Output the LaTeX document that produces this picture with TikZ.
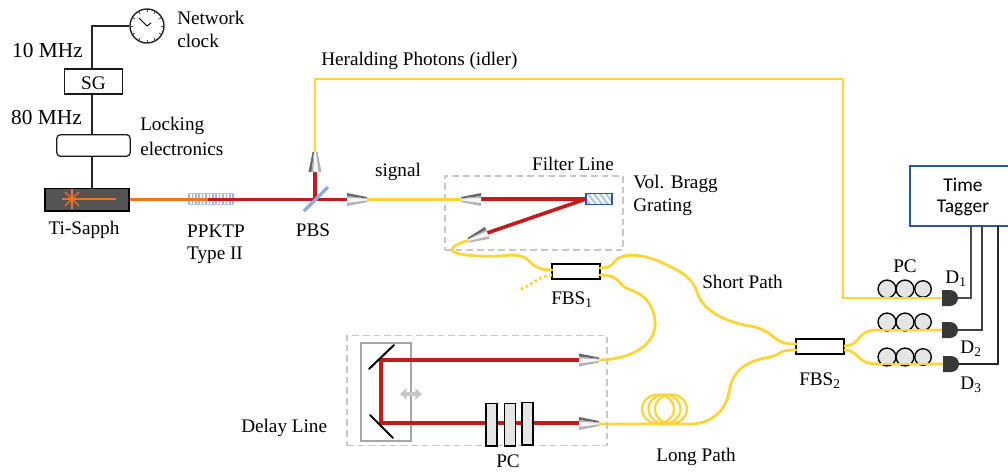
\documentclass[tikz,border=0pt]{standalone}
\usepackage{fontspec}
\setmainfont{Liberation Serif}
\newfontfamily\calfont{Carlito}
\usetikzlibrary{arrows.meta,calc}
\definecolor{fibre}{HTML}{FFD43B}
\definecolor{beam}{HTML}{C51A1B}
\definecolor{pump}{HTML}{ED7420}
\definecolor{tagblue}{HTML}{2F5597}
\definecolor{lblue}{HTML}{B4C7E7}
\definecolor{pbs}{HTML}{8FAADC}
\definecolor{dashg}{HTML}{C8C8C8}
\tikzset{
  x=0.75pt,y=-0.75pt,
  lbl/.style={inner sep=0pt,yshift=-1pt,font=\fontsize{14.4}{16}\selectfont},
  lblL/.style={lbl,anchor=west},
  lblBig/.style={inner sep=0pt,anchor=east,yshift=-1pt,font=\fontsize{16}{18}\selectfont},
  lblSans/.style={inner sep=0pt,font=\calfont\fontsize{14.6}{16}\selectfont},
  wire/.style={draw=black!85,line width=0.8pt},
  blackbox/.style={draw=black!90,line width=0.9pt,fill=white,inner sep=0pt},
  fbsbox/.style={draw=black,line width=1.1pt,fill=white,inner sep=0pt,minimum width=36pt,minimum height=11pt},
  fib/.style={draw=fibre,line width=2.1pt,line cap=round},
  redbeam/.style={draw=beam,line width=2.7pt},
  dashbox/.style={draw=dashg,line width=0.8pt,dash pattern=on 5pt off 3pt},
  plate/.style={draw=black,line width=1pt,fill=black!10,inner sep=0pt,minimum width=8.2pt,minimum height=32pt},
  pcwheel/.style={circle,draw=black,line width=1pt,fill=black!10,inner sep=0pt,minimum size=13.4pt},
  det/.style={fill=black!78,draw=none},
}
\newcommand{\collim}[4]{% x y rotation yscale
  \begin{scope}[shift={(#1,#2)},rotate=#3,yscale=#4]
    \fill[black!60] (-10,-6.5) -- (10,-2.5) -- (10,-1) -- (-10,-3.5) -- cycle;
    \fill[black!30] (-10,-3.5) -- (10,-1) -- (10,-0.5) -- (-10,-1.5) -- cycle;
    \fill[black!4]  (-10,-1.5) -- (10,-0.5) -- (10,1) -- (-10,3.5) -- cycle;
    \fill[black!30] (-10,3.5) -- (10,1) -- (10,2.5) -- (-10,6.5) -- cycle;
  \end{scope}}
\newcommand{\pcrow}[2]{% row name, y
  \node[pcwheel] (#1a) at (887,#2) {};
  \node[pcwheel] (#1b) at (905,#2) {};
  \node[pcwheel,minimum size=12.4pt] (#1c) at (923,#2) {};}
\begin{document}
\begin{tikzpicture}
\useasboundingbox (0,0) rectangle (1008,472);
% ---- control electronics
\node[circle,draw=black!90,line width=1pt,fill=white,minimum size=25.5pt,inner sep=0pt] (clock) at (147,26) {};
\foreach \a in {0,30,...,330}
  \draw[black!75,line width=0.6pt] ($(clock.center)+(\a:14)$) -- ($(clock.center)+(\a:16.5)$);
\draw[black,line width=0.7pt] (139,18) -- (clock.center) -- (151,23);
\node[blackbox,minimum width=43pt,minimum height=18.7pt] (sg) at (93.5,81.5) {};
\node[lbl] (sgt) at (sg.center) {SG};
\node[blackbox,rounded corners=2.5pt,minimum width=55pt,minimum height=16pt] (lock) at (93.5,145.5) {};
\node[draw=black,line width=1pt,fill=black!67,inner sep=0pt,minimum width=63pt,minimum height=17pt] (ti) at (87,199.5) {};
\coordinate (corner) at (92,26);
\draw[wire] (clock.west) -- (corner) -- (92,69);
\draw[wire] (92,94) -- (92,135);
\draw[wire] (92,156) -- (92,188);
% laser symbol
\coordinate (star) at (72,199);
\foreach \a in {0,45,90,135} \draw[pump,line width=0.9pt] ($(star)+(\a:10)$) -- ($(star)+(\a+180:10)$);
\draw[pump,line width=0.9pt] (star) -- (116,199);
% ---- PPKTP crystal
\foreach \i in {0,...,13} \draw[pbs!85,line width=1.1pt] (189+3.4*\i,193.5) -- (189+3.4*\i,204.5);
\draw[lblue,line width=1pt] (188,193.5) -- (234,193.5) (188,204.5) -- (234,204.5);
\coordinate (xtal) at (208,199.5);
\draw[draw=pump,line width=2.7pt] (ti.east) -- (xtal);
% ---- PBS
\coordinate (pbsc) at (315,199.5);
\draw[redbeam] (xtal) -- (347,199.5);
\draw[redbeam] (pbsc) -- (315,171);
\draw[pbs,line width=2.5pt] (304,211) -- (328,187);
% ---- signal arm and filter line
\node[dashbox,inner sep=0pt,minimum width=133.5pt,minimum height=55.5pt] (filter) at (534,213) {};
\coordinate (colA) at (367,199.5);
\coordinate (colB) at (461,199.5);
\draw[fib] (colA) -- (colB);
\draw[redbeam] (481,199) -- (586,199);
\draw[redbeam] (586,199) -- (487,233);
\node[draw=tagblue,line width=0.8pt,fill=white,inner sep=0pt,minimum width=19.5pt,minimum height=8.5pt] (vbg) at (599,199) {};
\begin{scope}
  \clip (586.5,193.5) rectangle (611.5,204.5);
  \foreach \i in {0,...,6} \draw[lblue,line width=1.6pt] (580+6*\i,191) -- (592+6*\i,207);
\end{scope}
\draw[draw=tagblue,line width=0.8pt] (586,193.3) rectangle (612,204.7);
\node[fbsbox] (fbsa) at (576,271.5) {};
\node[fbsbox] (fbsb) at (820,346.5) {};
% heralding fibre
\coordinate (colC) at (315,153);
\coordinate (h1) at (315,79);
\coordinate (h2) at (843,79);
\coordinate (h3) at (843,298);
\coordinate (d1in) at (942,298);
\draw[fib,line cap=butt] (colC) -- (h1) -- (h2) -- (h3) -- (d1in);
% fibre: filter -> FBS1
\coordinate (colD) at (469,240);
\draw[fib] (colD) .. controls (461,243) and (451,246) .. (452,250)
   .. controls (453,255) and (480,257) .. (500,256)
   .. controls (510,255) and (520,254) .. (527,259)
   .. controls (534,266) and (538,270) .. (552,270);
\draw[fib,line cap=butt,dash pattern=on 2pt off 2pt] (552,275) .. controls (538,276) and (533,285) .. (519,290);
% short path
\draw[fib] (600,268) .. controls (612,268) and (613,263) .. (617,259)
   .. controls (625,253) and (645,254) .. (665,264)
   .. controls (685,273) and (693,280) .. (697,292)
   .. controls (702,310) and (725,322) .. (750,326)
   .. controls (775,330) and (772,345) .. (796,344);
% to delay line
\coordinate (colE) at (598,360);
\draw[fib] (600,275) .. controls (612,275) and (617,278) .. (621,284)
   .. controls (627,293) and (650,288) .. (655,320)
   .. controls (658,345) and (630,360) .. (colE);
% long path
\coordinate (colF) at (598,424);
\draw[fib] (colF) -- (690,424)
   .. controls (712,424) and (726,410) .. (729,392)
   .. controls (732,372) and (745,362) .. (765,358)
   .. controls (785,355) and (775,350) .. (796,350);
\foreach \cx in {658,664.5,671}
  \draw[fibre,line width=1.7pt] (\cx,409) ellipse [x radius=16,y radius=14.5];
% ---- delay line
\node[dashbox,inner sep=0pt,minimum width=195pt,minimum height=83pt] (delay) at (477,390.5) {};
\node[draw=black!35,line width=0.8pt,inner sep=0pt,minimum width=37.5pt,minimum height=73.5pt] (stage) at (386,392) {};
\draw[redbeam] (580,360) -- (381,360) -- (381,423) -- (580,423);
\draw[black,line width=1.5pt,line cap=round] (369,369) -- (394,345);
\draw[black,line width=1.5pt,line cap=round] (370,415) -- (393,438);
\draw[black!22,line width=2.5pt,{Triangle[length=5pt,width=8.5pt]}-{Triangle[length=5pt,width=8.5pt]}] (400,394) -- (422,394);
\node[plate] (p1) at (491.5,424.5) {};
\node[plate] (p2) at (510,424.5) {};
\node[plate] (p3) at (527.5,423.5) {};
% ---- collimators
\collim{357}{199.5}{0}{1}
\collim{471}{199.5}{180}{-1}
\collim{315}{162}{90}{1}
\collim{478}{236.5}{201}{-1}
\collim{589}{360}{0}{1}
\collim{589}{423.5}{0}{1}
% ---- output stage
\coordinate (o2) at (942,330);
\coordinate (o3) at (943,364);
\draw[fib,line cap=butt] (844,346) .. controls (862,346) and (855,330) .. (878,330) -- (o2);
\draw[fib,line cap=butt] (844,350) .. controls (860,350) and (855,364) .. (878,364) -- (o3);
\pcrow{u}{289}
\pcrow{v}{322}
\pcrow{w}{357}
\draw[fib,line cap=butt] (875,298) -- (d1in);
\draw[fib,line cap=butt] (875,330) -- (o2);
\draw[fib,line cap=butt] (875,364) -- (o3);
\path[det] (942,290) -- (950,290) arc[start angle=-90,end angle=90,radius=8] -- (942,306) -- cycle;
\path[det] (942,322) -- (950,322) arc[start angle=-90,end angle=90,radius=8] -- (942,338) -- cycle;
\path[det] (943,356) -- (951,356) arc[start angle=-90,end angle=90,radius=8] -- (943,372) -- cycle;
\node[draw=tagblue,line width=0.9pt,fill=white,inner sep=0pt,minimum width=84pt,minimum height=45pt] (tag) at (966,196) {};
\draw[wire,draw=black!70] (958,298) -- (971,298) -- (971,226);
\draw[wire,draw=black!75] (958,330) -- (982,330) -- (982,226);
\draw[wire] (959,364) -- (998,364) -- (998,226);
% ---- labels
\node[lblL] (t1) at (177,17) {Network};
\node[lblL] (t2) at (177,40) {clock};
\node[lblBig] (t3) at (83,49) {10 MHz};
\node[lblBig] (t4) at (82,116) {80 MHz};
\node[lblL] (t5) at (140,125) {Locking};
\node[lblL] (t6) at (140,148) {electronics};
\node[lbl] (t7) at (84,229) {Ti-Sapph};
\node[lbl] (t8) at (216,230) {PPKTP};
\node[lbl] (t9) at (215,254) {Type II};
\node[lbl] (t10) at (313,229) {PBS};
\node[lbl] (t11) at (398,171) {signal};
\node[lblL] (t12) at (321,60) {Heralding Photons (idler)};
\node[lbl] (t13) at (573,163) {Filter Line};
\node[lblL] (t14) at (633,183) {Vol. Bragg};
\node[lblL] (t15) at (633,206) {Grating};
\node[lbl] (t16) at (572,298) {FBS\textsubscript{1}};
\node[lblL] (t17) at (702,281) {Short Path};
\node[lblL] (t18) at (241,427) {Delay Line};
\node[lbl] (t19) at (508,460) {PC};
\node[lblL] (t20) at (656,456) {Long Path};
\node[lbl] (t21) at (820,379) {FBS\textsubscript{2}};
\node[lbl] (t22) at (905,265) {PC};
\node[lbl] (t23) at (956,277) {D\textsubscript{1}};
\node[lbl] (t24) at (971,347) {D\textsubscript{2}};
\node[lbl] (t25) at (971,383) {D\textsubscript{3}};
\node[lblSans] (t26) at (963,185) {Time};
\node[lblSans] (t27) at (963,208) {Tagger};
\end{tikzpicture}
\end{document}
